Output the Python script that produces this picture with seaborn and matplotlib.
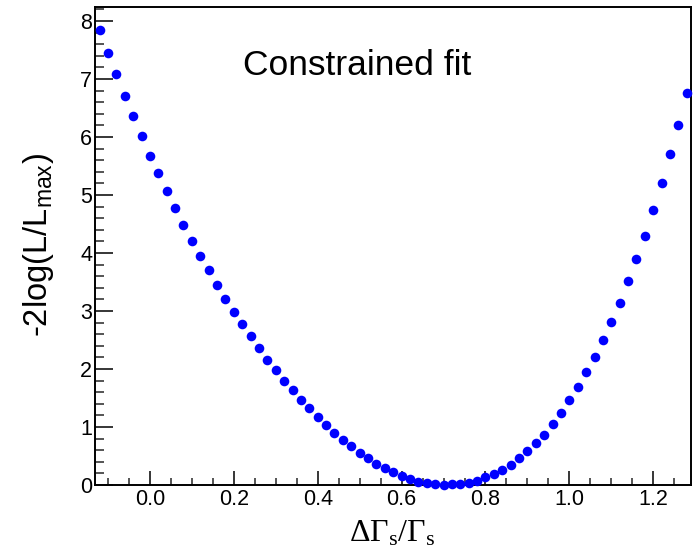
import matplotlib
matplotlib.use("Agg")
import matplotlib.pyplot as plt
from matplotlib.ticker import MultipleLocator, FormatStrFormatter
import numpy as np
import pandas as pd
import seaborn as sns

# Likelihood scan: Delta Gamma_s / Gamma_s vs -2 log(L/Lmax)
delta_gamma = [
    -0.12, -0.10, -0.08, -0.06, -0.04, -0.02, 0.00, 0.02, 0.04, 0.06,
    0.08, 0.10, 0.12, 0.14, 0.16, 0.18, 0.20, 0.22, 0.24, 0.26,
    0.28, 0.30, 0.32, 0.34, 0.36, 0.38, 0.40, 0.42, 0.44, 0.46,
    0.48, 0.50, 0.52, 0.54, 0.56, 0.58, 0.60, 0.62, 0.64, 0.66,
    0.68, 0.70, 0.72, 0.74, 0.76, 0.78, 0.80, 0.82, 0.84, 0.86,
    0.88, 0.90, 0.92, 0.94, 0.96, 0.98, 1.00, 1.02, 1.04, 1.06,
    1.08, 1.10, 1.12, 1.14, 1.16, 1.18, 1.20, 1.22, 1.24, 1.26,
    1.28,
]
nll = [
    7.85, 7.45, 7.08, 6.71, 6.36, 6.02, 5.68, 5.37, 5.06, 4.77,
    4.48, 4.21, 3.94, 3.70, 3.44, 3.21, 2.98, 2.77, 2.56, 2.36,
    2.16, 1.98, 1.80, 1.63, 1.47, 1.32, 1.17, 1.03, 0.90, 0.78,
    0.67, 0.56, 0.47, 0.37, 0.29, 0.22, 0.16, 0.10, 0.06, 0.03,
    0.01, 0.00, 0.01, 0.02, 0.04, 0.075, 0.13, 0.19, 0.26, 0.35,
    0.46, 0.59, 0.72, 0.87, 1.05, 1.24, 1.46, 1.69, 1.94, 2.21,
    2.50, 2.81, 3.14, 3.52, 3.90, 4.30, 4.74, 5.21, 5.70, 6.21,
    6.76,
]
annotation = "Constrained fit"

df = pd.DataFrame({"dg": delta_gamma, "nll": nll})

sns.set_theme(style="white")
plt.rcParams["font.family"] = ["Liberation Sans", "DejaVu Sans"]
plt.rcParams["mathtext.default"] = "regular"

W, H = 693, 558
fig = plt.figure(figsize=(W / 100, H / 100), dpi=100)
ax = fig.add_axes([95 / W, 1 - 485 / H, 596 / W, 478 / H])

sns.scatterplot(data=df, x="dg", y="nll", ax=ax, color="#0000ff",
                s=48, linewidth=0, legend=False, clip_on=False, zorder=3)

ax.set_xlim(-0.131, 1.29)
ax.set_ylim(0, 8.24)
ax.set_xlabel("")
ax.set_ylabel("")

for sp in ax.spines.values():
    sp.set_color("black")
    sp.set_linewidth(1.4)
    sp.set_visible(True)

ax.xaxis.set_major_locator(MultipleLocator(0.2))
ax.xaxis.set_minor_locator(MultipleLocator(0.05))
ax.yaxis.set_major_locator(MultipleLocator(1))
ax.yaxis.set_minor_locator(MultipleLocator(0.2))
ax.xaxis.set_major_formatter(FormatStrFormatter("%.1f"))
ax.yaxis.set_major_formatter(FormatStrFormatter("%d"))

ax.tick_params(axis="x", which="major", direction="in", length=10, width=1.1,
               labelsize=15.5, pad=3, top=False, bottom=True, colors="black")
ax.tick_params(axis="x", which="minor", direction="in", length=5, width=1.1,
               top=False, bottom=True)
ax.tick_params(axis="y", which="major", direction="in", length=13, width=1.1,
               labelsize=15.5, pad=2, right=False, left=True, colors="black")
ax.tick_params(axis="y", which="minor", direction="in", length=6.5, width=1.1,
               right=False, left=True)

ax.text(0.248, 0.858, annotation, transform=ax.transAxes, ha="left",
        va="baseline", fontsize=25.5, color="black")

fig.text(39 / W, 1 - 245 / H, "-2log(L/L$_{max}$)", rotation=90,
         ha="center", va="center", fontsize=23.5, color="black")
fig.text(392 / W, 1 - 542 / H, "ΔΓ$_s$/Γ$_s$", ha="center", va="baseline",
         fontsize=23, color="black", family=["Liberation Serif", "DejaVu Serif"])

fig.savefig("out.png", dpi=100, facecolor="white")
